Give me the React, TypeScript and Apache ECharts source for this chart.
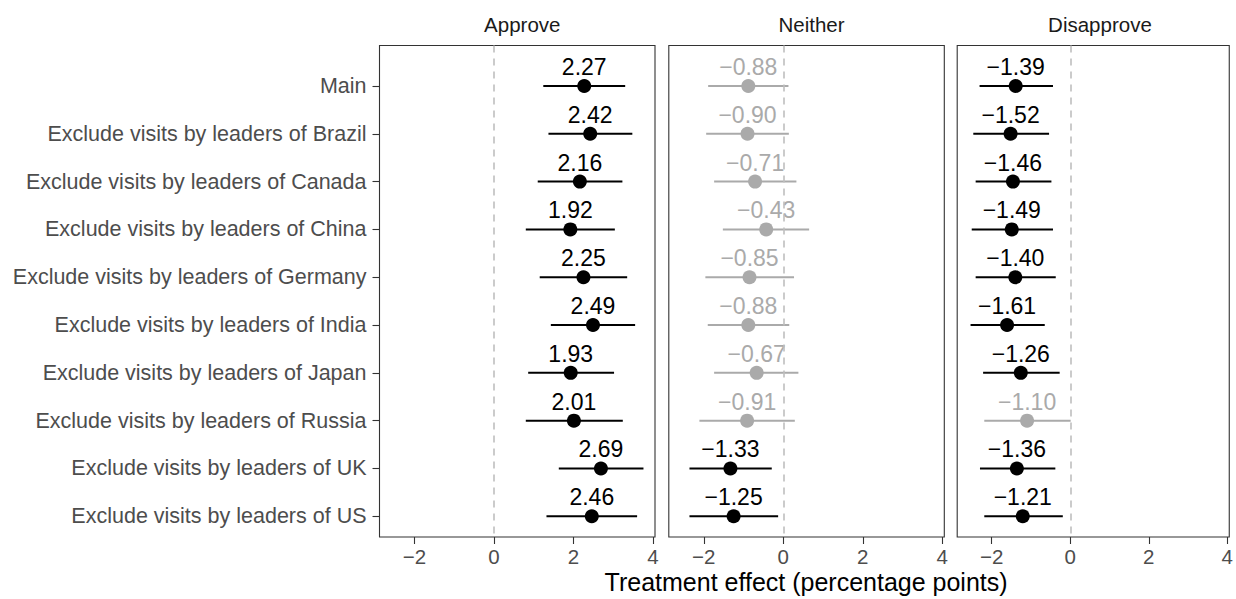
import React, { useEffect, useRef } from "react";
import * as echarts from "echarts";

const categories = [
  "Main",
  "Exclude visits by leaders of Brazil",
  "Exclude visits by leaders of Canada",
  "Exclude visits by leaders of China",
  "Exclude visits by leaders of Germany",
  "Exclude visits by leaders of India",
  "Exclude visits by leaders of Japan",
  "Exclude visits by leaders of Russia",
  "Exclude visits by leaders of UK",
  "Exclude visits by leaders of US",
];

const panels = ["Approve", "Neither", "Disapprove"];

const approveEst = [2.27, 2.42, 2.16, 1.92, 2.25, 2.49, 1.93, 2.01, 2.69, 2.46];
const approveLow = [1.24, 1.37, 1.1, 0.8, 1.15, 1.43, 0.86, 0.8, 1.63, 1.32];
const approveHigh = [3.3, 3.48, 3.23, 3.04, 3.35, 3.55, 3.02, 3.24, 3.76, 3.6];

const neitherEst = [-0.88, -0.9, -0.71, -0.43, -0.85, -0.88, -0.67, -0.91, -1.33, -1.25];
const neitherLow = [-1.89, -1.94, -1.74, -1.52, -1.96, -1.9, -1.74, -2.11, -2.36, -2.36];
const neitherHigh = [0.13, 0.14, 0.33, 0.65, 0.27, 0.15, 0.38, 0.29, -0.29, -0.13];

const disapproveEst = [-1.39, -1.52, -1.46, -1.49, -1.4, -1.61, -1.26, -1.1, -1.36, -1.21];
const disapproveLow = [-2.31, -2.47, -2.41, -2.51, -2.41, -2.54, -2.22, -2.19, -2.3, -2.19];
const disapproveHigh = [-0.44, -0.54, -0.48, -0.44, -0.37, -0.65, -0.27, 0.01, -0.38, -0.19];

const xTicks = [-2, 0, 2, 4];

const panelData = [
  { est: approveEst, low: approveLow, high: approveHigh },
  { est: neitherEst, low: neitherLow, high: neitherHigh },
  { est: disapproveEst, low: disapproveLow, high: disapproveHigh },
];

const SIG = "#000000";
const NS = "#aaaaaa";
const FONT = "'Liberation Sans', Arial, Helvetica, sans-serif";

const fmt = (v: number) => v.toFixed(2).replace("-", "\u2212");

export default function App() {
  const ref = useRef<HTMLDivElement>(null);
  useEffect(() => {
    if (!ref.current) return;
    const chart = echarts.init(ref.current, null, { renderer: "svg" });
    const gridLefts = [379.5, 668.8, 957.2];
    const gridW = 275.5;
    const gridTop = 45.5;
    const gridH = 491.5;
    const yIdx = categories.map((_, i) => i);

    const grids = gridLefts.map((l) => ({
      left: l,
      top: gridTop,
      width: gridW,
      height: gridH,
      show: true,
      borderColor: "#333333",
      borderWidth: 1.1,
      backgroundColor: "#ffffff",
      containLabel: false,
    }));

    const xAxes = gridLefts.map((_, i) => ({
      type: "value",
      gridIndex: i,
      position: "bottom",
      min: -2.88,
      max: 4.05,
      splitLine: { show: false },
      axisLine: { show: false, onZero: false },
      axisTick: {
        show: true,
        customValues: xTicks,
        length: 7,
        lineStyle: { color: "#333333", width: 1.1 },
      },
      axisLabel: {
        show: true,
        customValues: xTicks,
        formatter: (v: number) => String(v).replace("-", "\u2212"),
        fontSize: 20.5,
        fontFamily: FONT,
        color: "#4d4d4d",
        margin: 9,
      },
    }));

    const yAxes = gridLefts.map((_, i) => ({
      type: "value",
      gridIndex: i,
      position: "left",
      min: -0.847,
      max: 9.433,
      inverse: true,
      splitLine: { show: false },
      axisLine: { show: false, onZero: false },
      axisTick: {
        show: i === 0,
        customValues: yIdx,
        length: 7,
        lineStyle: { color: "#333333", width: 1.1 },
      },
      axisLabel: {
        show: i === 0,
        customValues: yIdx,
        formatter: (v: number) => categories[Math.round(v)] ?? "",
        fontSize: 21.5,
        fontFamily: FONT,
        color: "#4d4d4d",
        margin: 13,
      },
    }));

    const series: any[] = [];
    panelData.forEach((p, i) => {
      const sig = p.est.map((_, k) => (p.low[k] > 0 || p.high[k] < 0 ? 1 : 0));
      series.push({
        type: "custom",
        xAxisIndex: i,
        yAxisIndex: i,
        z: 2,
        silent: true,
        encode: { x: [0, 1], y: 2 },
        data: p.est.map((_, k) => [p.low[k], p.high[k], k, sig[k]]),
        renderItem: (params: any, api: any) => {
          const lo = api.coord([api.value(0), api.value(2)]);
          const hi = api.coord([api.value(1), api.value(2)]);
          return {
            type: "line",
            shape: { x1: lo[0], y1: lo[1], x2: hi[0], y2: hi[1] },
            style: { stroke: api.value(3) ? SIG : NS, lineWidth: 2 },
          };
        },
        markLine: {
          silent: true,
          symbol: "none",
          label: { show: false },
          lineStyle: { color: "#bfbfbf", type: [7, 6], width: 1.6 },
          data: [{ xAxis: 0 }],
        },
      });
      series.push({
        type: "scatter",
        xAxisIndex: i,
        yAxisIndex: i,
        z: 3,
        symbolSize: 14,
        itemStyle: { opacity: 1 },
        data: p.est.map((v, k) => ({
          value: [v, k],
          itemStyle: { color: sig[k] ? SIG : NS, opacity: 1 },
          label: { color: sig[k] ? SIG : NS },
        })),
        label: {
          show: true,
          position: "inside",
          offset: [0, -19],
          fontSize: 23,
          fontFamily: FONT,
          formatter: (d: any) => fmt(d.value[0]),
        },
      });
    });

    const titles: any[] = panels.map((name, i) => ({
      text: name,
      left: gridLefts[i] + gridW / 2,
      top: 9,
      textAlign: "center",
      textStyle: { fontSize: 20.5, fontWeight: "normal", color: "#1a1a1a", fontFamily: FONT },
    }));
    titles.push({
      text: "Treatment effect (percentage points)",
      left: (gridLefts[0] + gridLefts[2] + gridW) / 2,
      top: 567,
      padding: 0,
      textAlign: "center",
      textStyle: { fontSize: 25, lineHeight: 30, fontWeight: "normal", color: "#000000", fontFamily: FONT },
    });

    chart.setOption({
      animation: false,
      backgroundColor: "#ffffff",
      title: titles,
      grid: grids,
      xAxis: xAxes,
      yAxis: yAxes,
      series,
    });
    return () => chart.dispose();
  }, []);
  return (
    <div
      ref={ref}
      style={{ position: "absolute", left: 0, top: 0, width: 1236, height: 599 }}
    />
  );
}
